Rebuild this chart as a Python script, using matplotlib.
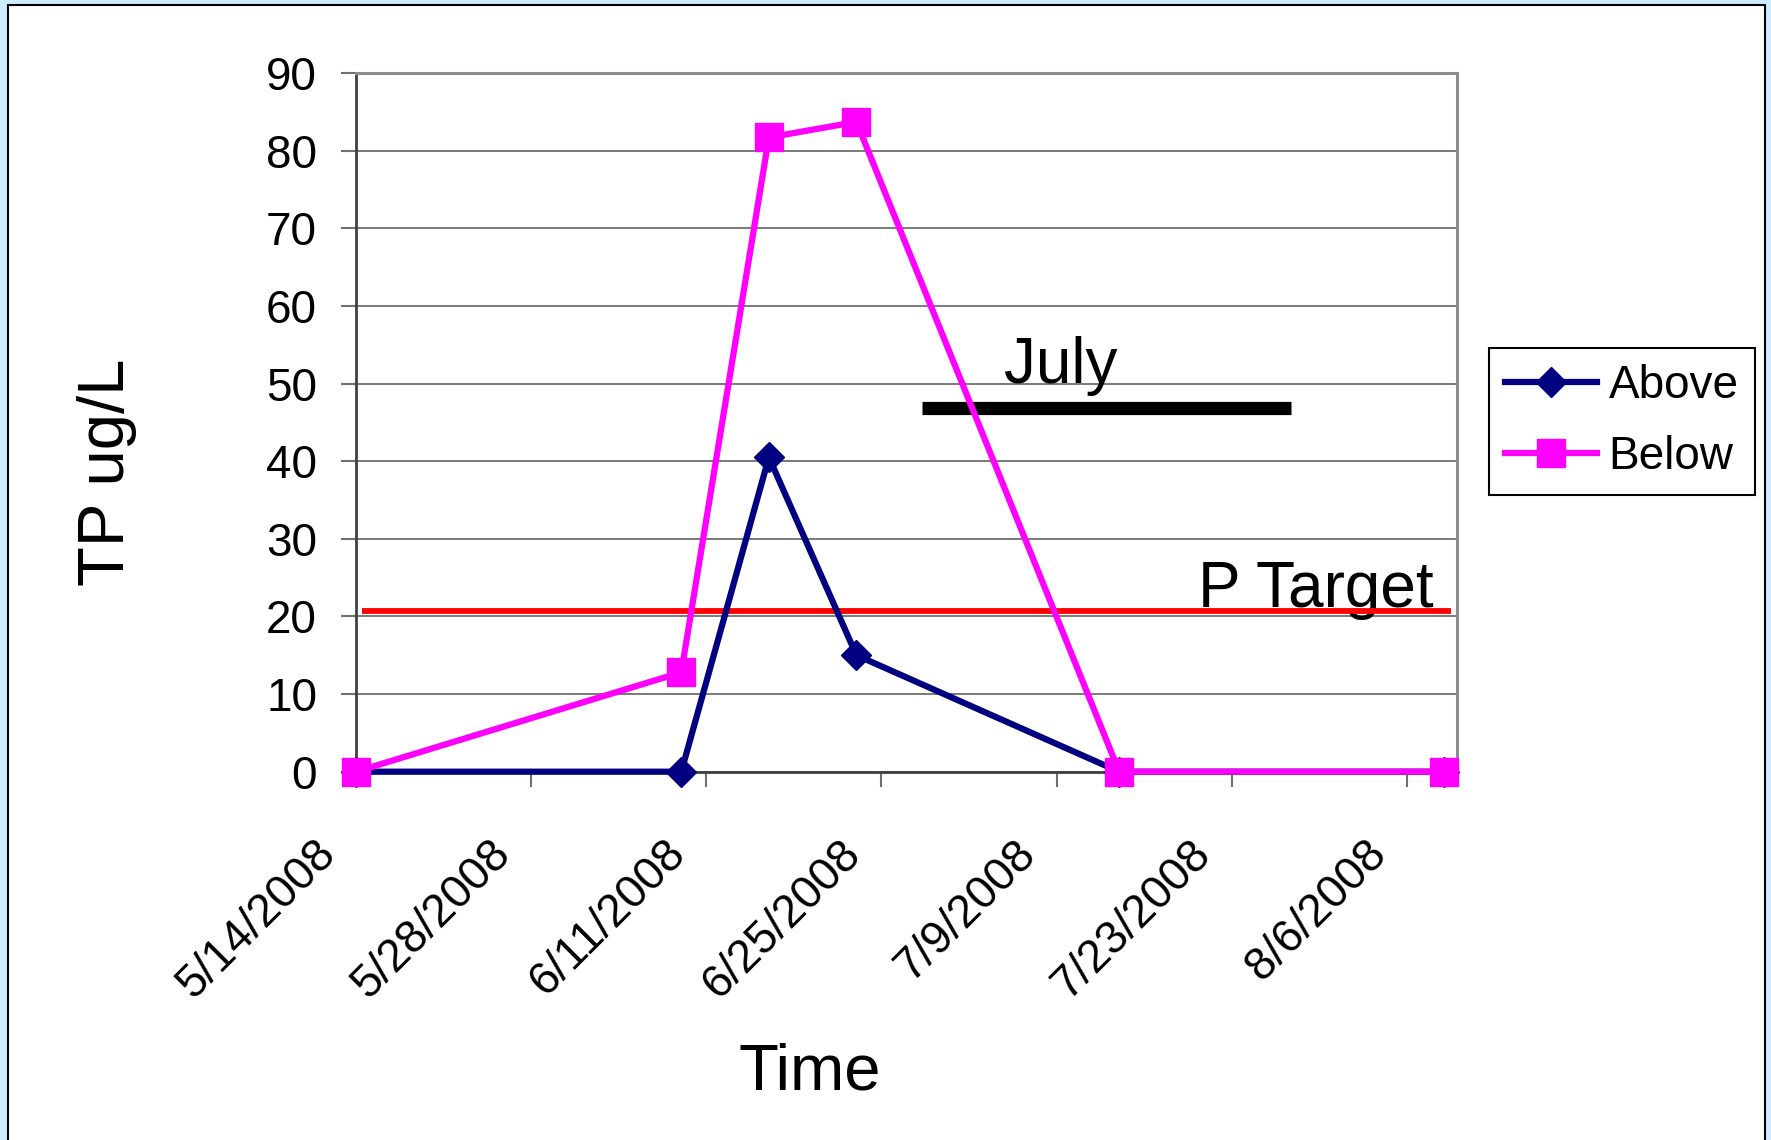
import matplotlib
matplotlib.use("Agg")
import matplotlib.pyplot as plt
import matplotlib.transforms as mtransforms
from matplotlib.patches import Rectangle
import pandas as pd

plt.rcParams['font.family'] = ['Liberation Sans', 'DejaVu Sans']

# ---- data ----
dates = ['2008-05-14', '2008-06-09', '2008-06-16', '2008-06-23', '2008-07-14', '2008-08-09']
above = [0, 0, 40.5, 15, 0, 0]
below = [0, 12.8, 81.7, 83.7, 0, 0]

target_x = ['2008-05-14 12:00', '2008-08-09 12:00']
target_y = [20.7, 20.7]
july_x = ['2008-06-28 05:00', '2008-07-27 17:00']
july_y = [46.85, 46.85]

xticks = ['2008-05-14', '2008-05-28', '2008-06-11', '2008-06-25',
          '2008-07-09', '2008-07-23', '2008-08-06']
xtick_labels = ['5/14/2008', '5/28/2008', '6/11/2008', '6/25/2008',
                '7/9/2008', '7/23/2008', '8/6/2008']
xlim = ['2008-05-14', '2008-08-10']
yticks = [0, 10, 20, 30, 40, 50, 60, 70, 80, 90]

W, H = 1771, 1140
fig = plt.figure(figsize=(W / 100, H / 100), dpi=100)
fig.patch.set_facecolor('#CCECFF')
fig.patches.append(Rectangle((8 / W, -0.02), (1765 - 8) / W, 1 - 5 / H + 0.02,
                             transform=fig.transFigure, facecolor='white',
                             edgecolor='black', linewidth=1.5, zorder=-10))

ax = fig.add_axes([356 / W, 1 - 771.7 / H, (1457 - 356) / W, (771.7 - 73) / H])
ax.set_zorder(1)
ax.set_facecolor('white')

d = pd.to_datetime(dates)
ax.plot(pd.to_datetime(target_x), target_y, color='#FF0000', lw=4.2,
        solid_capstyle='butt', zorder=3)
ax.plot(pd.to_datetime(july_x), july_y, color='black', lw=9.5,
        solid_capstyle='butt', zorder=3)
ax.plot(d, above, color='#000080', lw=4.5, marker='D', markersize=15.5,
        label='Above', zorder=4, clip_on=False)
ax.plot(d, below, color='#FF00FF', lw=4.5, marker='s', markersize=20.5,
        label='Below', zorder=5, clip_on=False)

ax.set_xlim(pd.to_datetime(xlim[0]), pd.to_datetime(xlim[1]))
ax.set_ylim(0, 90)
ax.set_yticks(yticks)
ax.set_xticks(pd.to_datetime(xticks))
ax.set_xticklabels(xtick_labels)

ax.grid(axis='y', color='#707070', lw=1.3)
ax.set_axisbelow(True)

for s in ['top', 'right']:
    ax.spines[s].set_color('#8C8C8C')
    ax.spines[s].set_linewidth(2.2)
ax.spines['left'].set_color('#404040')
ax.spines['left'].set_linewidth(2)
ax.spines['bottom'].set_color('#404040')
ax.spines['bottom'].set_linewidth(2)

ax.tick_params(axis='y', length=11, width=1.5, color='#707070', pad=17,
               labelsize=33, labelcolor='black')
ax.tick_params(axis='x', length=11, width=1.5, color='#707070', pad=32,
               labelsize=33, labelcolor='black')
offset = mtransforms.ScaledTranslation(-12 / 100, 0, fig.dpi_scale_trans)
for lab in ax.get_xticklabels():
    lab.set_rotation(45)
    lab.set_ha('right')
    lab.set_va('top')
    lab.set_transform(lab.get_transform() + offset)

ax.text(pd.to_datetime('2008-05-14') + pd.Timedelta(days=51.8), 50.1, 'July',
        fontsize=46, ha='left', va='baseline', zorder=6)
ax.text(pd.to_datetime('2008-05-14') + pd.Timedelta(days=67.3), 21.2, 'P Target',
        fontsize=46, ha='left', va='baseline', zorder=2)

fig.text(107 / W, 1 - 472 / H, 'TP ug/L', rotation=90, fontsize=47,
         ha='center', va='center')
fig.text(810 / W, 1 - 1073 / H, 'Time', fontsize=47, ha='center', va='center')

leg = ax.legend(loc='center', bbox_to_anchor=(1622 / W, 1 - 421.5 / H),
                bbox_transform=fig.transFigure, fontsize=33, frameon=True,
                fancybox=False, edgecolor='black', framealpha=1,
                handlelength=2.0, handletextpad=0.25, labelspacing=0.6,
                borderpad=0.35, borderaxespad=0)
leg.get_frame().set_linewidth(1.5)

fig.savefig('out.png', dpi=100, facecolor=fig.get_facecolor())
